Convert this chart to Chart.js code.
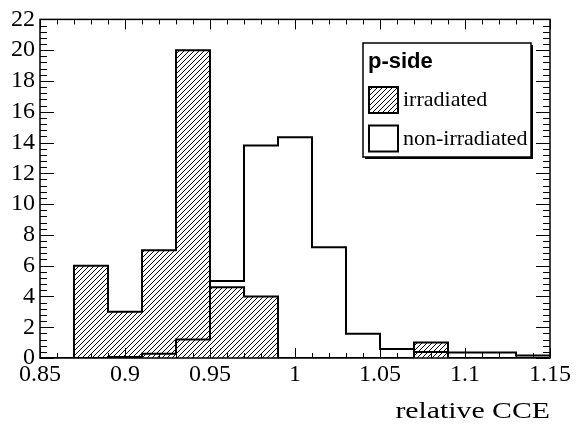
<!DOCTYPE html>
<html>
<head>
<meta charset="utf-8">
<script src="https://cdn.jsdelivr.net/npm/chart.js@4.4.1/dist/chart.umd.min.js"></script>
<style>
  html, body { margin: 0; padding: 0; background: #fff; }
  #wrap { width: 576px; height: 424px; position: relative; }
  .fontwarm { position: absolute; left: -9999px; top: 0; }
</style>
</head>
<body>
<span class="fontwarm" style="font-family:'Liberation Serif'">0.85 irradiated</span>
<span class="fontwarm" style="font-family:'Liberation Sans';font-weight:bold">p-side</span>
<div id="wrap"><canvas id="cce"></canvas></div>
<script>
// histogram bins (relative CCE), 0.02 wide
const binEdges = [0.85, 0.87, 0.89, 0.91, 0.93, 0.95, 0.97, 0.99, 1.01, 1.03, 1.05, 1.07, 1.09, 1.11, 1.13, 1.15];
// entries per bin
const irradiated    = [0, 6, 3, 7, 20, 4.6, 4, 0, 0, 0, 0, 1, 0, 0, 0];
const nonIrradiated = [0, 0, 0.07, 0.28, 1.2, 5.0, 13.8, 14.35, 7.2, 1.58, 0.58, 0.39, 0.35, 0.35, 0.17];
// axis labels
const xTicks = [0.85, 0.9, 0.95, 1, 1.05, 1.1, 1.15];
const yTicks = [0, 2, 4, 6, 8, 10, 12, 14, 16, 18, 20, 22];
const legendTitle = 'p-side';
const xTitle = 'relative CCE';

const serif = "'Liberation Serif', 'Times New Roman', Times, serif";

// step outline points for a histogram
function stepPoints(edges, values) {
    const pts = values.map((v, i) => ({ x: edges[i], y: v }));
    pts.push({ x: edges[edges.length - 1], y: values[values.length - 1] });
    pts.push({ x: edges[edges.length - 1], y: 0 });
    return pts;
}

// diagonal hatch like ROOT fill style 3004
function makeHatch() {
    const c = document.createElement('canvas');
    c.width = 5; c.height = 5;
    const g = c.getContext('2d');
    g.strokeStyle = '#000';
    g.lineWidth = 1;
    g.beginPath();
    g.moveTo(-1, 6); g.lineTo(6, -1);
    g.moveTo(-1, 1); g.lineTo(1, -1);
    g.moveTo(4, 6); g.lineTo(6, 4);
    g.stroke();
    return g.createPattern(c, 'repeat');
}
const hatch = makeHatch();

// frame with inward ticks on all four sides, legend box and axis title
const rootFrame = {
    id: 'rootFrame',
    afterDatasetsDraw(chart) {
        const { ctx, chartArea: a, scales } = chart;
        const xs = scales.x, ys = scales.y;
        ctx.save();
        ctx.strokeStyle = '#000';
        ctx.lineWidth = 1.5;
        ctx.strokeRect(a.left, a.top, a.right - a.left, a.bottom - a.top);

        ctx.lineWidth = 1;
        ctx.beginPath();
        // x ticks every 0.01, major every 0.05
        for (let k = 0; k <= 30; k++) {
            const v = 0.85 + k * 0.01;
            const px = Math.round(xs.getPixelForValue(v)) + 0.5;
            const len = (k % 5 === 0) ? 10 : 5;
            ctx.moveTo(px, a.bottom); ctx.lineTo(px, a.bottom - len);
            ctx.moveTo(px, a.top); ctx.lineTo(px, a.top + len);
        }
        // y ticks every 0.4, major every 2
        for (let k = 0; k <= 55; k++) {
            const v = k * 0.4;
            const py = Math.round(ys.getPixelForValue(v)) + 0.5;
            const len = (k % 5 === 0) ? 14 : 7;
            ctx.moveTo(a.left, py); ctx.lineTo(a.left + len, py);
            ctx.moveTo(a.right, py); ctx.lineTo(a.right - len, py);
        }
        ctx.stroke();
        ctx.restore();
    },
    afterDraw(chart) {
        const { ctx, chartArea: a } = chart;
        ctx.save();

        // axis title (ROOT draws it a bit wide)
        ctx.fillStyle = '#000';
        ctx.font = '24px ' + serif;
        ctx.textAlign = 'right';
        ctx.textBaseline = 'alphabetic';
        ctx.translate(a.right, 418);
        ctx.scale(1.24, 1);
        ctx.fillText(xTitle, 0, 0);
        ctx.restore();

        // legend
        ctx.save();
        const bx = 363, by = 43, bw = 168, bh = 114;
        ctx.fillStyle = '#000';
        ctx.fillRect(bx + 2, by + 2, bw, bh);
        ctx.fillStyle = '#fff';
        ctx.fillRect(bx, by, bw, bh);
        ctx.strokeStyle = '#000';
        ctx.lineWidth = 1.5;
        ctx.strokeRect(bx, by, bw, bh);

        ctx.fillStyle = '#000';
        ctx.font = "bold 22px 'Liberation Sans', Arial, sans-serif";
        ctx.textAlign = 'left';
        ctx.textBaseline = 'alphabetic';
        ctx.fillText(legendTitle, bx + 5, by + 25);

        ctx.font = '22px ' + serif;
        chart.data.datasets.forEach((ds, i) => {
            const sy = by + 44 + i * 38.5;
            ctx.fillStyle = ds.fill ? ds.backgroundColor : '#fff';
            ctx.fillRect(bx + 6, sy, 29, 26);
            ctx.lineWidth = 2;
            ctx.strokeStyle = '#000';
            ctx.strokeRect(bx + 6, sy, 29, 26);
            ctx.fillStyle = '#000';
            ctx.fillText(ds.label, bx + 40, sy + 19);
        });
        ctx.restore();
    }
};

function drawChart() {
    new Chart(document.getElementById('cce'), {
        type: 'line',
        data: {
            datasets: [
                {
                    label: 'irradiated',
                    data: stepPoints(binEdges, irradiated),
                    stepped: 'before',
                    borderColor: '#000',
                    borderWidth: 2,
                    backgroundColor: hatch,
                    fill: 'origin',
                    pointRadius: 0,
                    tension: 0
                },
                {
                    label: 'non-irradiated',
                    data: stepPoints(binEdges, nonIrradiated),
                    stepped: 'before',
                    borderColor: '#000',
                    borderWidth: 2,
                    backgroundColor: 'rgba(0,0,0,0)',
                    fill: false,
                    pointRadius: 0,
                    tension: 0
                }
            ]
        },
        options: {
            responsive: true,
            maintainAspectRatio: false,
            animation: false,
            layout: { padding: { top: 19, right: 26, bottom: 0, left: 0 } },
            plugins: {
                legend: { display: false },
                tooltip: { enabled: false }
            },
            scales: {
                x: {
                    type: 'linear',
                    min: 0.85,
                    max: 1.15,
                    afterBuildTicks: (s) => { s.ticks = xTicks.map(v => ({ value: v })); },
                    afterFit: (s) => { s.height = 66; },
                    ticks: {
                        autoSkip: false,
                        maxRotation: 0,
                        color: '#000',
                        padding: 2,
                        font: { family: serif, size: 24 },
                        callback: (v) => String(+v.toFixed(2))
                    },
                    grid: { display: false, drawTicks: false },
                    border: { display: false }
                },
                y: {
                    min: 0,
                    max: 22,
                    afterBuildTicks: (s) => { s.ticks = yTicks.map(v => ({ value: v })); },
                    afterFit: (s) => { s.width = 40; },
                    ticks: {
                        autoSkip: false,
                        color: '#000',
                        padding: 5,
                        font: { family: serif, size: 24 }
                    },
                    grid: { display: false, drawTicks: false },
                    border: { display: false }
                }
            }
        },
        plugins: [rootFrame]
    });
}

Promise.all([
    document.fonts.load("24px 'Liberation Serif'"),
    document.fonts.load("bold 22px 'Liberation Sans'")
]).then(drawChart, drawChart);
</script>
</body>
</html>
